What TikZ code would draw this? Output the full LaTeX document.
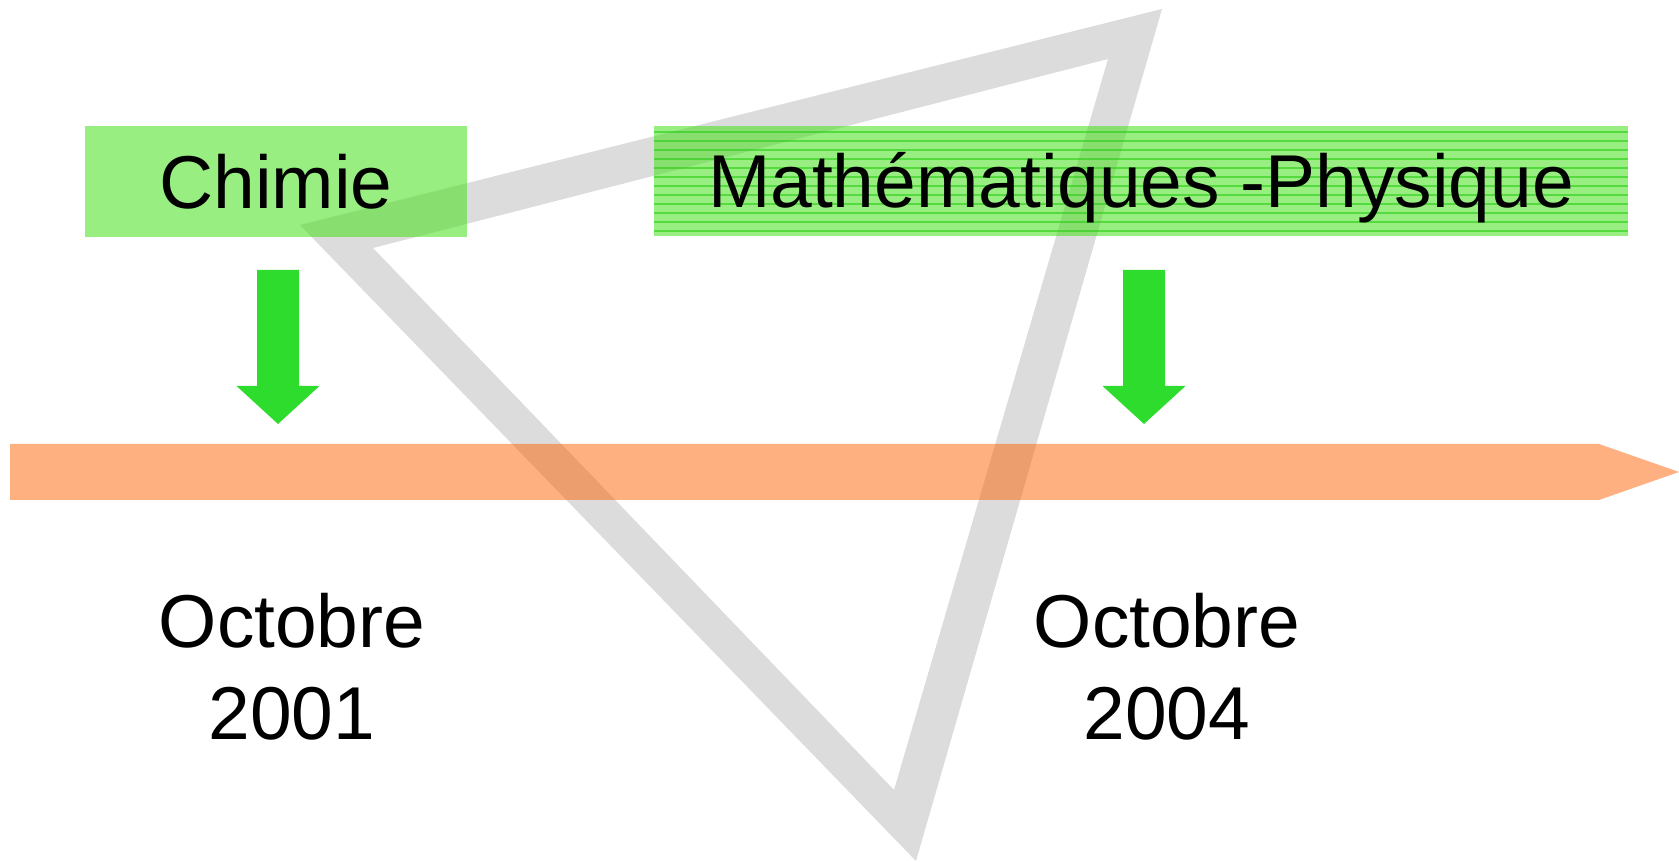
\documentclass[tikz,border=0pt]{standalone}
\usepackage{fontspec}
\setmainfont{Liberation Sans}
\usepackage{xcolor}
\definecolor{trianglegray}{RGB}{220, 220, 220}
\definecolor{boxgreen}{RGB}{65, 224, 20}
\definecolor{stripegreen}{RGB}{40, 205, 20}
\definecolor{arrowgreen}{RGB}{46, 220, 46}
\definecolor{barorange}{RGB}{255, 100, 6}

\begin{document}
\begin{tikzpicture}[x=0.01cm, y=-0.01cm,
    label/.style={font=\fontsize{21.3}{26}\selectfont, inner sep=0pt},
    subject/.style={label, fill=boxgreen, fill opacity=0.54, text opacity=1,
        text height=15.2pt, text depth=0pt, minimum height=1.1cm},
    stripes/.style={path picture={
        \foreach \k in {0,...,11}
            \draw[stripegreen, draw opacity=0.6, line width=0.012cm]
                ([yshift={-0.06cm-\k*0.09cm}]path picture bounding box.north west) --
                ([yshift={-0.06cm-\k*0.09cm}]path picture bounding box.north east);}},
    date/.style={label, align=center, anchor=north}]
    \useasboundingbox (0,0) rectangle (1679,862);

    % Triangle
    \fill[trianglegray, even odd rule]
        (1162,9) -- (300,225) -- (916,861) -- cycle
        (1108,59) -- (373,248) -- (894,790) -- cycle;

    % Timeline
    \fill[barorange, fill opacity=0.51]
        (10,444) -- (1599,444) -- (1679,472) -- (1599,500) -- (10,500) -- cycle;

    % Subjects
    \node[subject, minimum width=3.82cm] (chimie) at (276,181.5) {Chimie};
    \node[subject, stripes, minimum width=9.74cm] (mathphys) at (1141,181) {Mathématiques -Physique};

    % Arrows
    \foreach \cx in {278,1144}
        \fill[arrowgreen] ({\cx-21},270) -- ({\cx+21},270) -- ({\cx+21},386) -- ({\cx+41.5},386)
            -- (\cx,424) -- ({\cx-41.5},386) -- ({\cx-21},386) -- cycle;

    % Dates
    \node[date] (oct2001) at (292,593) {Octobre\\2001};
    \node[date] (oct2004) at (1167,593) {Octobre\\2004};
\end{tikzpicture}
\end{document}
